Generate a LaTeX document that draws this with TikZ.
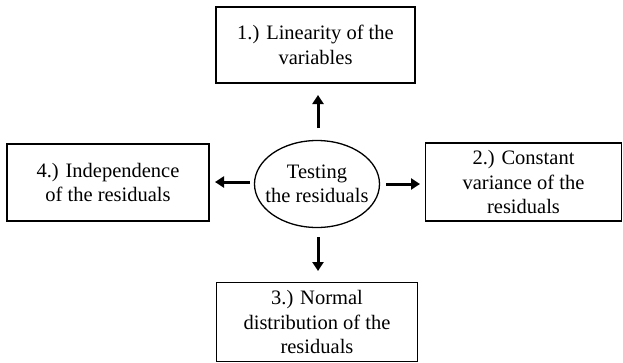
\documentclass[tikz,border=0pt]{standalone}
\usepackage{fontspec}
\setmainfont{Liberation Serif}
\usetikzlibrary{arrows.meta,shapes.geometric}
\begin{document}
\begin{tikzpicture}[x=1pt,y=-1pt,
  txt/.style={font=\fontsize{20.5}{24.5}\selectfont, align=center},
  box/.style={draw, line width=1.3pt, inner sep=0pt, txt},
  arr/.style={line width=3pt, -{Triangle[length=9pt,width=11pt]}}]
\useasboundingbox (0,0) rectangle (623,362);
\node[box, minimum width=199pt, minimum height=76pt] (t) at (315.5,45) {1.) Linearity of the\\variables};
\node[box, minimum width=202pt, minimum height=77pt] (l) at (108,182.5) {4.) Independence\\of the residuals};
\node[box, minimum width=196pt, minimum height=78pt] (r) at (523.5,182) {2.) Constant\\variance of the\\residuals};
\node[box, minimum width=201pt, minimum height=79pt] (b) at (317,322) {3.) Normal\\distribution of the\\residuals};
\node[inner sep=0pt, txt] (c) at (317,184) {Testing\\the residuals};
\draw[line width=1.3pt] (c.center) ellipse [x radius=62.5pt, y radius=43.5pt];
\coordinate (ut) at (318,128); \coordinate (uh) at (318,95);
\coordinate (lt) at (250,182); \coordinate (lh) at (215,182);
\coordinate (rt) at (386,184); \coordinate (rh) at (420,184);
\coordinate (dt) at (318,237); \coordinate (dh) at (318,271);
\draw[arr] (ut) -- (uh);
\draw[arr] (lt) -- (lh);
\draw[arr] (rt) -- (rh);
\draw[arr] (dt) -- (dh);
\end{tikzpicture}
\end{document}
